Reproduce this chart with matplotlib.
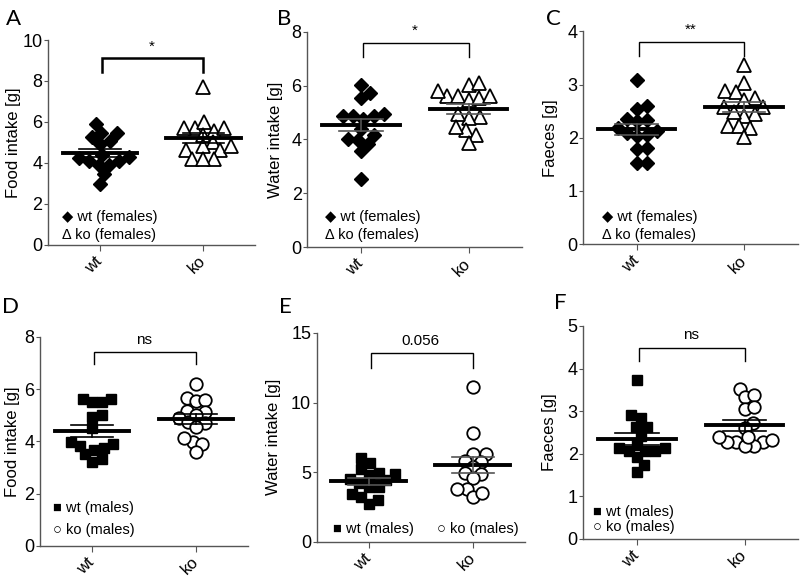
import numpy as np
import matplotlib
matplotlib.use('Agg')
import matplotlib.pyplot as plt

plt.rcParams['font.family'] = ['Liberation Sans', 'DejaVu Sans']

# valores (15 animales por grupo, 14 en ko de E)
groups = ['wt', 'ko']

food_f_wt = [5.89, 5.45, 5.25, 5.45, 4.93, 5.07, 4.28, 4.07, 3.90, 3.90, 4.07, 4.23, 4.39, 3.45, 2.98]
food_f_ko = [7.72, 5.69, 5.69, 5.98, 5.58, 5.69, 5.37, 5.04, 4.80, 4.63, 4.63, 4.80, 4.18, 4.18, 4.18]

water_f_wt = [5.73, 5.56, 6.02, 4.86, 4.86, 4.78, 4.86, 4.96, 4.40, 4.03, 3.85, 3.97, 4.18, 3.57, 2.54]
water_f_ko = [6.04, 6.10, 5.61, 5.61, 5.46, 5.55, 5.61, 5.81, 4.84, 4.80, 4.96, 4.34, 4.47, 4.16, 3.87]

faeces_f_wt = [3.09, 2.59, 2.54, 2.32, 2.36, 2.33, 2.13, 2.19, 2.05, 2.03, 2.09, 1.78, 1.81, 1.52, 1.53]
faeces_f_ko = [3.36, 3.02, 2.88, 2.86, 2.75, 2.71, 2.57, 2.57, 2.44, 2.41, 2.49, 2.22, 2.19, 2.22, 2.02]

food_m_wt = [5.52, 5.64, 5.64, 5.52, 5.01, 4.94, 4.52, 3.99, 3.83, 3.76, 3.89, 3.67, 3.50, 3.22, 3.31]
food_m_ko = [6.18, 5.68, 5.54, 5.58, 5.13, 5.17, 4.88, 4.75, 4.69, 5.01, 4.54, 3.99, 4.14, 3.90, 3.61]

water_m_wt = [6.03, 5.26, 5.67, 4.78, 4.83, 4.95, 4.43, 4.52, 4.19, 3.95, 3.95, 3.21, 3.44, 2.73, 2.97]
water_m_ko = [11.10, 7.82, 6.32, 6.32, 5.74, 5.79, 5.36, 4.90, 4.95, 4.59, 3.76, 3.76, 3.23, 3.47]

faeces_m_wt = [3.74, 2.91, 2.83, 2.62, 2.62, 2.42, 2.13, 2.07, 2.07, 2.07, 2.13, 2.21, 1.93, 1.74, 1.58]
faeces_m_ko = [3.51, 3.32, 3.38, 3.04, 3.09, 2.71, 2.60, 2.28, 2.28, 2.18, 2.18, 2.28, 2.32, 2.39, 2.40]

letters = ['A', 'B', 'C', 'D', 'E', 'F']
ylabels = ['Food intake [g]', 'Water intake [g]', 'Faeces [g]',
           'Food intake [g]', 'Water intake [g]', 'Faeces [g]']
ymax = [10, 8, 4, 8, 15, 5]
ysteps = [2, 2, 1, 2, 5, 1]
sig_text = ['*', '*', '**', 'ns', '0.056', 'ns']
# corchete: arriba, pie
sig_y = [(9.1, 8.45), (7.59, 7.05), (3.79, 3.53), (7.43, 6.96), (13.56, 12.49), (4.49, 4.18)]

data = [(food_f_wt, food_f_ko), (water_f_wt, water_f_ko), (faeces_f_wt, faeces_f_ko),
        (food_m_wt, food_m_ko), (water_m_wt, water_m_ko), (faeces_m_wt, faeces_m_ko)]

# posiciones de los ejes en fracciones de la figura
positions = [[0.060, 0.578, 0.259, 0.353], [0.384, 0.574, 0.269, 0.371], [0.729, 0.579, 0.268, 0.367],
             [0.050, 0.059, 0.260, 0.360], [0.396, 0.066, 0.260, 0.360], [0.729, 0.071, 0.269, 0.367]]
ylabel_x = [-0.165, -0.149, -0.154, -0.13, -0.207, -0.158]
letter_pos = [(0.008, 0.985), (0.346, 0.985), (0.683, 0.985), (0.003, 0.488), (0.349, 0.488), (0.692, 0.494)]
err_color = ['black', '#555555', '#555555', 'black', '#555555', 'black']

W, H = 800, 580


def swarm(vals, ppx_x, ppx_y, dpx=11.0):
    # beeswarm sencillo en píxeles
    vals = np.asarray(vals, dtype=float)
    order = np.argsort(vals)
    placed = []
    xs = np.zeros(len(vals))
    for i in order:
        y = vals[i] * ppx_y
        cands = [0.0]
        for (xj, yj) in placed:
            dy = y - yj
            if abs(dy) < dpx:
                dx = np.sqrt(dpx ** 2 - dy ** 2)
                cands += [xj + dx, xj - dx]
        cands.sort(key=abs)
        for c in cands:
            if all((c - xj) ** 2 + (y - yj) ** 2 >= dpx ** 2 - 1e-6 for xj, yj in placed):
                break
        placed.append((c, y))
        xs[i] = c / ppx_x
    return xs


fig = plt.figure(figsize=(8, 5.8), dpi=100)

for k in range(6):
    ax = fig.add_axes(positions[k])
    ax.set_xlim(-0.5, 1.5)
    ax.set_ylim(0, ymax[k])
    ppx_x = positions[k][2] * W / 2.0
    ppx_y = positions[k][3] * H / ymax[k]

    females = k < 3
    for g in range(2):
        vals = np.array(data[k][g])
        if females:
            if g == 0:
                xs = g + swarm(vals, ppx_x, ppx_y, 10.5)
                ax.plot(xs, vals, linestyle='none', marker='D', ms=7, color='black', zorder=3)
            else:
                xs = g + swarm(vals, ppx_x, ppx_y, 11.0)
                ax.plot(xs, vals, linestyle='none', marker='^', ms=10, mfc='white', mec='black',
                        mew=1.3, zorder=3)
        else:
            if g == 0:
                xs = g + swarm(vals, ppx_x, ppx_y, 10.0)
                ax.plot(xs, vals, linestyle='none', marker='s', ms=7, color='black', zorder=3)
            else:
                xs = g + swarm(vals, ppx_x, ppx_y, 9.5)
                ax.plot(xs, vals, linestyle='none', marker='o', ms=9, mfc='white', mec='black',
                        mew=1.3, zorder=3)
        m = vals.mean()
        sem = vals.std(ddof=1) / np.sqrt(len(vals))
        ax.plot([g - 0.36, g + 0.36], [m, m], color='black', lw=2.8, zorder=4)
        ax.plot([g, g], [m - sem, m + sem], color=err_color[k], lw=1.2, zorder=4)
        for yy in (m - sem, m + sem):
            ax.plot([g - 0.2, g + 0.2], [yy, yy], color=err_color[k], lw=1.2, zorder=4)

    # corchete de significancia
    top, foot = sig_y[k]
    lw_b = 1.8 if k == 0 else 1.0
    ax.plot([0.02, 0.02, 1, 1], [foot, top, top, foot], color='black', lw=lw_b,
            solid_joinstyle='miter')
    ax.text(0.5, top + ymax[k] * 0.025, sig_text[k], ha='center', va='bottom', fontsize=11)

    ticks = np.arange(0, ymax[k] + 0.01, ysteps[k])
    ax.set_yticks(ticks)
    ax.set_yticklabels([str(int(v)) for v in ticks], fontsize=13)
    ax.set_xticks([0, 1])
    ax.set_xticklabels(groups, fontsize=12, rotation=45, ha='right', va='center',
                       rotation_mode='anchor')
    ax.tick_params(axis='x', pad=6, colors='#555555', labelcolor='black', length=4)
    ax.tick_params(axis='y', colors='#555555', labelcolor='black', length=3, pad=1)
    ax.set_ylabel(ylabels[k], fontsize=12, va='center')
    ax.yaxis.set_label_coords(ylabel_x[k], 0.5)
    for s in ['top', 'right']:
        ax.spines[s].set_visible(False)
    for s in ['left', 'bottom']:
        ax.spines[s].set_color('#555555')
        ax.spines[s].set_linewidth(1.0)

    # leyendas
    if k == 0:
        ax.text(0.068, 0.137, '◆ wt (females)', transform=ax.transAxes, fontsize=10.5, va='center')
        ax.text(0.068, 0.049, 'Δ ko (females)', transform=ax.transAxes, fontsize=10.5, va='center')
    elif k == 1:
        ax.text(0.084, 0.14, '◆ wt (females)', transform=ax.transAxes, fontsize=10.5, va='center')
        ax.text(0.084, 0.056, 'Δ ko (females)', transform=ax.transAxes, fontsize=10.5, va='center')
    elif k == 2:
        ax.text(0.089, 0.127, '◆ wt (females)', transform=ax.transAxes, fontsize=10.5, va='center')
        ax.text(0.089, 0.042, 'Δ ko (females)', transform=ax.transAxes, fontsize=10.5, va='center')
    elif k == 3:
        ax.text(0.063, 0.18, '■ wt (males)', transform=ax.transAxes, fontsize=10.5, va='center')
        ax.text(0.063, 0.077, '○ ko (males)', transform=ax.transAxes, fontsize=10.5, va='center')
    elif k == 4:
        ax.text(0.077, 0.06, '■ wt (males)', transform=ax.transAxes, fontsize=10.5, va='center')
        ax.text(0.577, 0.06, '○ ko (males)', transform=ax.transAxes, fontsize=10.5, va='center')
    else:
        ax.text(0.047, 0.127, '■ wt (males)', transform=ax.transAxes, fontsize=10.5, va='center')
        ax.text(0.047, 0.056, '○ ko (males)', transform=ax.transAxes, fontsize=10.5, va='center')

    fig.text(letter_pos[k][0], letter_pos[k][1], letters[k], fontsize=16, family='Lato',
             ha='left', va='top')

fig.savefig('out.png', dpi=100)
